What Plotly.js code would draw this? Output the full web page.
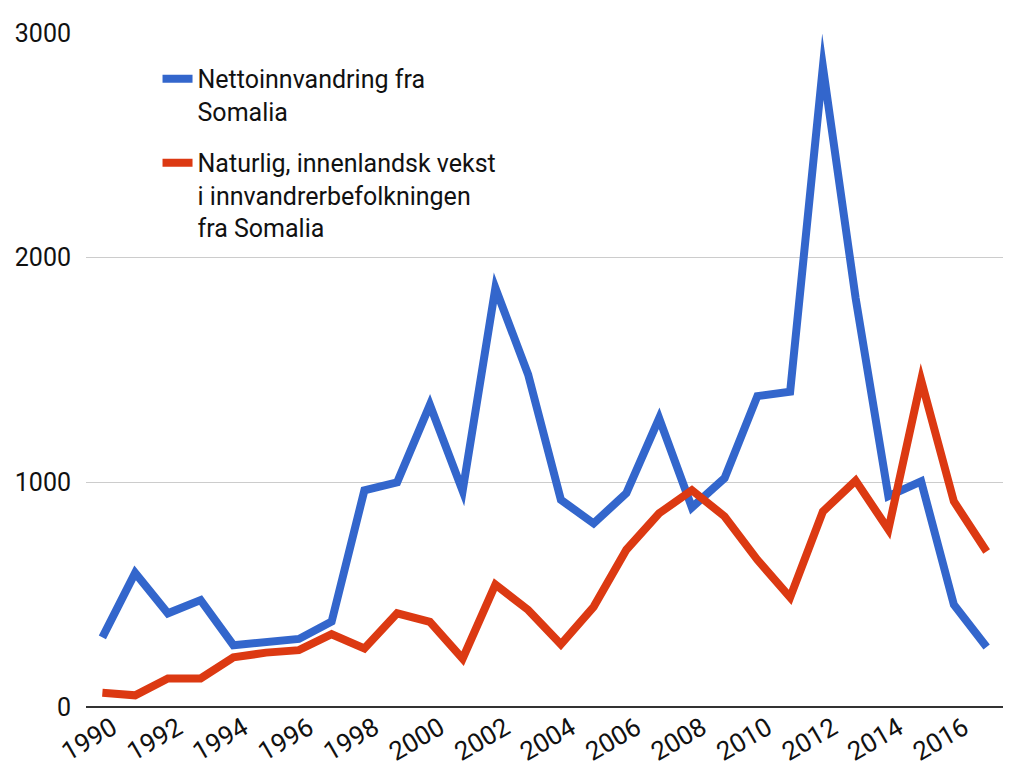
<!DOCTYPE html>
<html>
<head>
<meta charset="utf-8">
<script src="https://cdn.plot.ly/plotly-3.0.1.min.js"></script>
<style>
  html, body { margin: 0; padding: 0; background: #fff; }
  #chart { width: 1023px; height: 782px; }
  /* sharp joins on the peaks, like the original */
  #chart path.js-line { stroke-linejoin: miter; stroke-miterlimit: 20; }
</style>
</head>
<body>
<div id="chart"></div>
<script>
// years 1990-2017
var years = [1990, 1991, 1992, 1993, 1994, 1995, 1996, 1997, 1998, 1999,
             2000, 2001, 2002, 2003, 2004, 2005, 2006, 2007, 2008, 2009,
             2010, 2011, 2012, 2013, 2014, 2015, 2016, 2017];

var nettoinnvandring = [310, 597, 417, 476, 275, 290, 303, 380, 964, 1000,
                        1345, 962, 1865, 1480, 922, 817, 952, 1285, 888, 1019,
                        1384, 1403, 2850, 1820, 938, 1004, 455, 267];

var naturligVekst = [63, 52, 127, 127, 221, 242, 253, 324, 261, 417,
                     379, 215, 545, 432, 279, 446, 700, 862, 965, 848,
                     655, 488, 870, 1008, 790, 1455, 915, 692];

var name1 = 'Nettoinnvandring fra<br>Somalia';
var name2 = 'Naturlig, innenlandsk vekst<br>i innvandrerbefolkningen<br>fra Somalia';

var trace1 = {
  x: years,
  y: nettoinnvandring,
  name: name1,
  legendgroup: 'g1',
  type: 'scatter',
  mode: 'lines',
  line: {color: '#3366cc', width: 8}
};

var trace2 = {
  x: years,
  y: naturligVekst,
  name: name2,
  legendgroup: 'g2',
  type: 'scatter',
  mode: 'lines',
  line: {color: '#dc3912', width: 8}
};

var layout = {
  width: 1023,
  height: 782,
  margin: {l: 86, r: 20, t: 33, b: 75},
  paper_bgcolor: '#fff',
  plot_bgcolor: '#fff',
  font: {family: 'Roboto, Arial, sans-serif', size: 25, color: '#111'},
  showlegend: true,
  legend: {
    x: 0.078, y: 0.966, xanchor: 'left', yanchor: 'top',
    bgcolor: 'rgba(0,0,0,0)',
    font: {size: 25, color: '#111'},
    itemwidth: 30,
    valign: 'top',
    traceorder: 'grouped',
    tracegroupgap: 16
  },
  xaxis: {
    range: [1989.5, 2017.5],
    tick0: 1990, dtick: 2,
    tickangle: -30,
    ticklabelshift: 10,
    showgrid: false,
    zeroline: false,
    showline: false,
    ticks: '',
    tickfont: {size: 26, color: '#111'}
  },
  yaxis: {
    range: [0, 3000],
    dtick: 1000,
    showgrid: true,
    gridcolor: '#cccccc',
    gridwidth: 1.5,
    zeroline: true,
    zerolinecolor: '#333333',
    zerolinewidth: 1.5,
    showline: false,
    ticks: '',
    ticklabelstandoff: 14,
    tickfont: {size: 25, color: '#111'}
  }
};

Plotly.newPlot('chart', [trace1, trace2], layout, {displayModeBar: false, staticPlot: true});
</script>
</body>
</html>
